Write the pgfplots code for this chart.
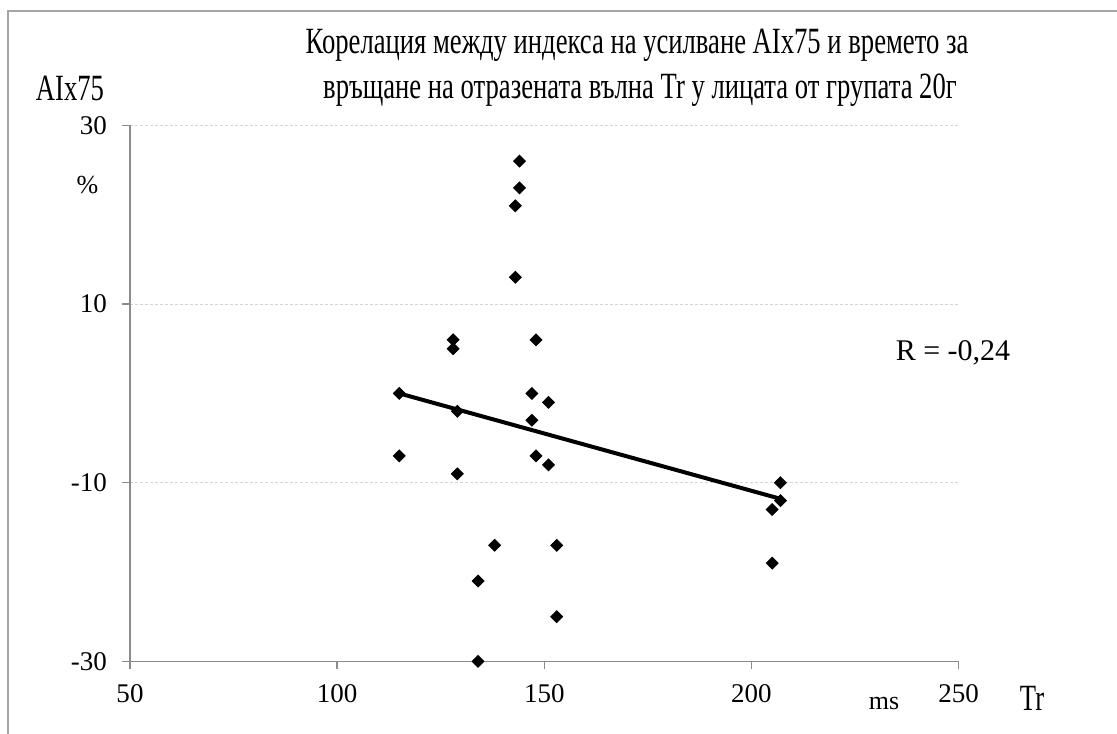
\documentclass[border=0pt]{standalone}
\usepackage{fontspec}
\setmainfont{Liberation Serif}
\newfontfamily\narrowfont{Liberation Serif}[FakeStretch=0.72]
\usepackage{pgfplots}
\usepackage{pgfplotstable}
\pgfplotsset{compat=1.18}

\definecolor{framegray}{HTML}{A6A6A6}
\definecolor{axisgray}{HTML}{8C8C8C}
\definecolor{gridgray}{HTML}{D4D4D4}

% Tr (ms) and AIx75 (%)
\pgfplotstableread{
tr   aix
115    0
115   -7
128    6
128    5
129   -2
129   -9
134  -21
134  -30
138  -17
143   21
143   13
144   26
144   23
147    0
147   -3
148    6
148   -7
151   -1
151   -8
153  -17
153  -25
205  -13
205  -19
207  -10
207  -12
}\points

% linear trend
\pgfplotstableread{
tr   aix
115    0
207  -11.8
}\trend

\begin{document}
\begin{tikzpicture}[x=0.5pt,y=0.5pt]
\path[use as bounding box] (0,0) rectangle (1117,733);
\draw[framegray, line width=0.8pt] (8,-5) -- (8,722) -- (1122,722);

\begin{axis}[
  at={(65pt,35.8pt)}, anchor=south west,
  scale only axis, width=414.3pt, height=268pt,
  xmin=50, xmax=250, ymin=-30, ymax=30,
  xtick={50,100,...,250}, ytick={-30,-10,10,30},
  axis x line*=bottom, axis y line*=left,
  axis line style={axisgray, line width=0.75pt},
  tick style={axisgray, line width=0.75pt},
  tick align=outside, major tick length=4pt,
  ymajorgrids, grid style={gridgray, line width=0.5pt, dash pattern=on 1.5pt off 1pt},
  /pgf/number format/assume math mode=true,
  ticklabel style={font=\fontsize{13.5}{15}\selectfont},
  xticklabel style={yshift=-4pt},
  yticklabel style={xshift=-4pt},
  clip=false,
]
\addplot[black, line width=2pt, no marks] table[x=tr, y=aix] {\trend};
\addplot[only marks, mark=square*, mark size=2.1pt, black,
  mark options={rotate=45}] table[x=tr, y=aix] {\points};
\end{axis}

\node[font=\narrowfont\fontsize{18.5}{21}\selectfont] at (637,688)
  {Корелация между индекса на усилване AIx75 и времето за};
\node[font=\narrowfont\fontsize{18.5}{21}\selectfont] at (640,643)
  {връщане на отразената вълна Tr у лицата от групата 20г};
\node[font=\narrowfont\fontsize{18.5}{21}\selectfont] at (70,645) {AIx75};
\node[font=\fontsize{13}{15}\selectfont] at (87.5,548) {\%};
\node[font=\fontsize{15}{17}\selectfont] at (953,380) {R = -0,24};
\node[font=\fontsize{13}{15}\selectfont] at (884,30) {ms};
\node[font=\narrowfont\fontsize{18.5}{21}\selectfont] at (1032,35) {Tr};
\end{tikzpicture}
\end{document}
